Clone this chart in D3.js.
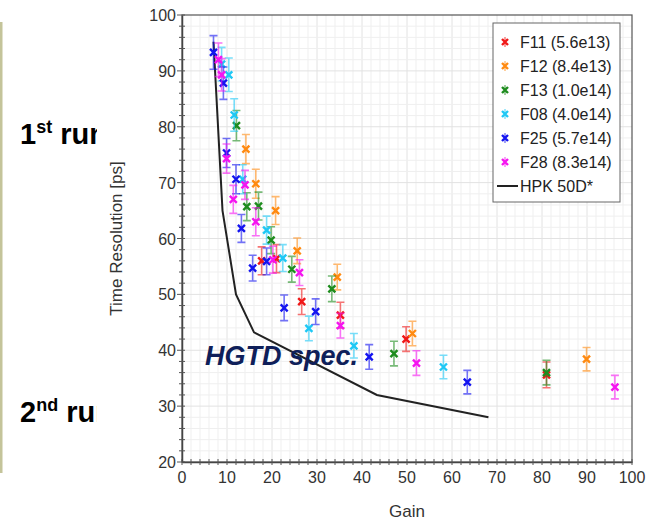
<!DOCTYPE html>
<html>
<head>
<meta charset="utf-8">
<script src="https://cdn.jsdelivr.net/npm/d3@7"></script>
<style>
  html, body { margin: 0; padding: 0; background: #fff; }
  svg { display: block; font-family: "Liberation Sans", Arial, sans-serif; }
</style>
</head>
<body>
<svg id="chart" width="658" height="521"></svg>
<script>
// Time resolution vs gain for irradiated sensors (value, uncertainty per point)
const f11Gain = [17.7, 21.0, 26.6, 35.2, 49.8, 81.0];
const f11Res  = [56.0, 56.4, 48.7, 46.3, 42.0, 35.6];
const f11Err  = [2.5, 2.5, 2.3, 2.3, 2.2, 2.3];

const f12Gain = [14.2, 16.4, 20.8, 25.6, 34.5, 51.2, 89.9];
const f12Res  = [76.0, 69.8, 65.0, 57.8, 53.1, 43.0, 38.4];
const f12Err  = [2.6, 2.6, 2.5, 2.3, 2.3, 2.2, 2.1];

const f13Gain = [12.1, 14.4, 17.0, 19.8, 24.4, 33.3, 47.1, 81.0];
const f13Res  = [80.2, 65.7, 65.8, 59.7, 54.5, 51.0, 39.4, 36.0];
const f13Err  = [2.7, 2.5, 2.5, 2.4, 2.3, 2.3, 2.2, 2.2];

const f08Gain = [8.8, 10.4, 11.6, 13.5, 18.8, 22.4, 28.2, 38.2, 58.1];
const f08Res  = [91.2, 89.3, 82.1, 70.6, 61.5, 56.5, 43.9, 40.8, 37.0];
const f08Err  = [3.0, 3.0, 2.9, 2.6, 2.5, 2.4, 2.2, 2.2, 2.1];

const f25Gain = [7.0, 9.2, 9.9, 12.0, 13.2, 15.7, 18.8, 22.7, 29.7, 41.6, 63.4];
const f25Res  = [93.3, 87.8, 75.3, 70.6, 61.8, 54.7, 55.9, 47.6, 46.9, 38.8, 34.3];
const f25Err  = [3.0, 2.9, 2.6, 2.6, 2.5, 2.3, 2.4, 2.3, 2.3, 2.2, 2.1];

const f28Gain = [8.1, 8.8, 9.9, 11.4, 14.0, 16.4, 20.2, 26.1, 35.2, 52.1, 96.2];
const f28Res  = [92.0, 89.3, 74.3, 67.0, 69.6, 63.0, 56.2, 53.9, 44.4, 37.7, 33.4];
const f28Err  = [3.0, 2.9, 2.6, 2.5, 2.6, 2.5, 2.4, 2.3, 2.2, 2.2, 2.1];

// HPK 50D reference curve
const hpkGain = [7.0, 9.0, 12.0, 16.0, 43.3, 68.1];
const hpkRes  = [95.2, 65.0, 50.0, 43.2, 32.0, 28.0];

const seriesNames  = ["F11 (5.6e13)", "F12 (8.4e13)", "F13 (1.0e14)", "F08 (4.0e14)", "F25 (5.7e14)", "F28 (8.3e14)"];
const seriesColors = ["#f01818", "#ff8a10", "#1e8c1e", "#1ec8f5", "#1414f0", "#f514f0"];
const lineName = "HPK 50D*";

const xTicks = [0, 10, 20, 30, 40, 50, 60, 70, 80, 90, 100];
const yTicks = [20, 30, 40, 50, 60, 70, 80, 90, 100];

const series = [
  [f11Gain, f11Res, f11Err], [f12Gain, f12Res, f12Err], [f13Gain, f13Res, f13Err],
  [f08Gain, f08Res, f08Err], [f25Gain, f25Res, f25Err], [f28Gain, f28Res, f28Err]
].map(([g, r, e], i) => ({
  name: seriesNames[i], color: seriesColors[i],
  pts: g.map((v, j) => ({ g: v, t: r[j], e: e[j] }))
}));

const svg = d3.select("#chart");

// slide-side annotations (partly hidden behind the chart panel)
svg.append("rect").attr("x", 0).attr("y", 22).attr("width", 2.5).attr("height", 451).attr("fill", "#c4c49a");
function runLabel(y, num, sup, rest) {
  const t = svg.append("text").attr("x", 20).attr("y", y)
    .attr("font-size", 29).attr("font-weight", "bold").attr("fill", "#000");
  t.append("tspan").text(num);
  t.append("tspan").attr("font-size", 18).attr("dy", -11).text(sup);
  t.append("tspan").attr("dy", 11).text(" " + rest);
}
runLabel(144, "1", "st", "run");
runLabel(422, "2", "nd", "run");
svg.append("rect").attr("x", 97).attr("y", 0).attr("width", 561).attr("height", 521).attr("fill", "#fff");

const L = 182, R = 632, T = 15, B = 462;
const x = d3.scaleLinear().domain([0, 100]).range([L, R]);
const y = d3.scaleLinear().domain([20, 100]).range([B, T]);

// grid every 2 units
const gx = d3.range(2, 100, 2), gy = d3.range(22, 100, 2);
const grid = svg.append("g");
grid.selectAll(".vx").data(gx).join("line")
  .attr("x1", d => x(d)).attr("x2", d => x(d)).attr("y1", T).attr("y2", B)
  .attr("stroke", d => d % 10 === 0 ? "#e2e2e2" : "#efefef").attr("stroke-width", 1);
grid.selectAll(".hy").data(gy).join("line")
  .attr("y1", d => y(d)).attr("y2", d => y(d)).attr("x1", L).attr("x2", R)
  .attr("stroke", d => d % 10 === 0 ? "#e2e2e2" : "#efefef").attr("stroke-width", 1);

// frame
svg.append("rect").attr("x", L).attr("y", T).attr("width", R - L).attr("height", B - T)
  .attr("fill", "none").attr("stroke", "#555").attr("stroke-width", 1.2);

// axes
const xAxis = svg.append("g").attr("transform", `translate(0,${B})`)
  .call(d3.axisBottom(x).tickValues(d3.range(0, 101, 2)).tickSize(0).tickFormat(""));
xAxis.select(".domain").attr("stroke", "#444").attr("stroke-width", 1.5);
svg.append("g").selectAll("line").data(d3.range(0, 101, 2)).join("line")
  .attr("x1", d => x(d)).attr("x2", d => x(d)).attr("y1", B - 3).attr("y2", B + 3)
  .attr("stroke", "#555").attr("stroke-width", 1);
svg.append("g").selectAll("text").data(xTicks).join("text")
  .attr("x", d => x(d)).attr("y", B + 21).attr("text-anchor", "middle")
  .attr("font-size", 16).attr("fill", "#333").text(d => d);

const yAxis = svg.append("g").attr("transform", `translate(${L},0)`)
  .call(d3.axisLeft(y).tickValues(d3.range(20, 101, 2)).tickSize(0).tickFormat(""));
yAxis.select(".domain").attr("stroke", "#444").attr("stroke-width", 1.5);
svg.append("g").selectAll("line").data(d3.range(20, 101, 2)).join("line")
  .attr("y1", d => y(d)).attr("y2", d => y(d))
  .attr("x1", d => d % 10 === 0 ? L - 5 : L - 3).attr("x2", L + 3)
  .attr("stroke", "#555").attr("stroke-width", 1);
svg.append("g").selectAll("text").data(yTicks).join("text")
  .attr("x", L - 6).attr("y", d => y(d) + 6).attr("text-anchor", "end")
  .attr("font-size", 16).attr("fill", "#333").text(d => d);

svg.append("text").attr("x", (L + R) / 2).attr("y", 517).attr("text-anchor", "middle")
  .attr("font-size", 17).attr("fill", "#333").text("Gain");
svg.append("text").attr("transform", `translate(122,${(T + B) / 2}) rotate(-90)`)
  .attr("text-anchor", "middle").attr("font-size", 17).attr("fill", "#333").text("Time Resolution [ps]");

// HPK curve
const line = d3.line().x(d => x(d[0])).y(d => y(d[1]));
svg.append("path").datum(hpkGain.map((g, i) => [g, hpkRes[i]]))
  .attr("d", line).attr("fill", "none").attr("stroke", "#222").attr("stroke-width", 2);

// data points with error bars
function drawMarker(g, cx, cy, color, s) {
  g.append("path")
    .attr("d", `M${cx - s},${cy - s}L${cx + s},${cy + s}M${cx - s},${cy + s}L${cx + s},${cy - s}`)
    .attr("stroke", color).attr("stroke-width", 2.4).attr("fill", "none");
}
series.forEach(s => {
  const g = svg.append("g");
  s.pts.forEach(p => {
    const cx = x(p.g), y1 = y(p.t + p.e), y2 = y(p.t - p.e);
    g.append("path")
      .attr("d", `M${cx},${y1}L${cx},${y2}M${cx - 4},${y1}L${cx + 4},${y1}M${cx - 4},${y2}L${cx + 4},${y2}`)
      .attr("stroke", s.color).attr("stroke-opacity", 0.6).attr("stroke-width", 1.6).attr("fill", "none");
  });
  s.pts.forEach(p => drawMarker(g, x(p.g), y(p.t), s.color, 3.5));
});

// legend
const lg = svg.append("g");
lg.append("rect").attr("x", 493).attr("y", 23).attr("width", 127).attr("height", 179)
  .attr("fill", "#fff").attr("stroke", "#666").attr("stroke-width", 1);
series.forEach((s, i) => {
  const cy = 42 + i * 24;
  lg.append("line").attr("x1", 505).attr("x2", 505).attr("y1", cy - 5).attr("y2", cy + 5)
    .attr("stroke", s.color).attr("stroke-opacity", 0.55).attr("stroke-width", 1.5);
  drawMarker(lg, 505, cy, s.color, 3);
  lg.append("text").attr("x", 520).attr("y", cy + 6).attr("font-size", 16).attr("fill", "#222").text(s.name);
});
lg.append("line").attr("x1", 497).attr("x2", 518).attr("y1", 186).attr("y2", 186)
  .attr("stroke", "#222").attr("stroke-width", 2);
lg.append("text").attr("x", 520).attr("y", 192).attr("font-size", 16).attr("fill", "#222").text(lineName);

// spec annotation
svg.append("text").attr("x", 205).attr("y", 365).attr("font-size", 27)
  .attr("font-weight", "bold").attr("font-style", "italic").attr("fill", "#0f1f5a").text("HGTD spec.");
</script>
</body>
</html>
